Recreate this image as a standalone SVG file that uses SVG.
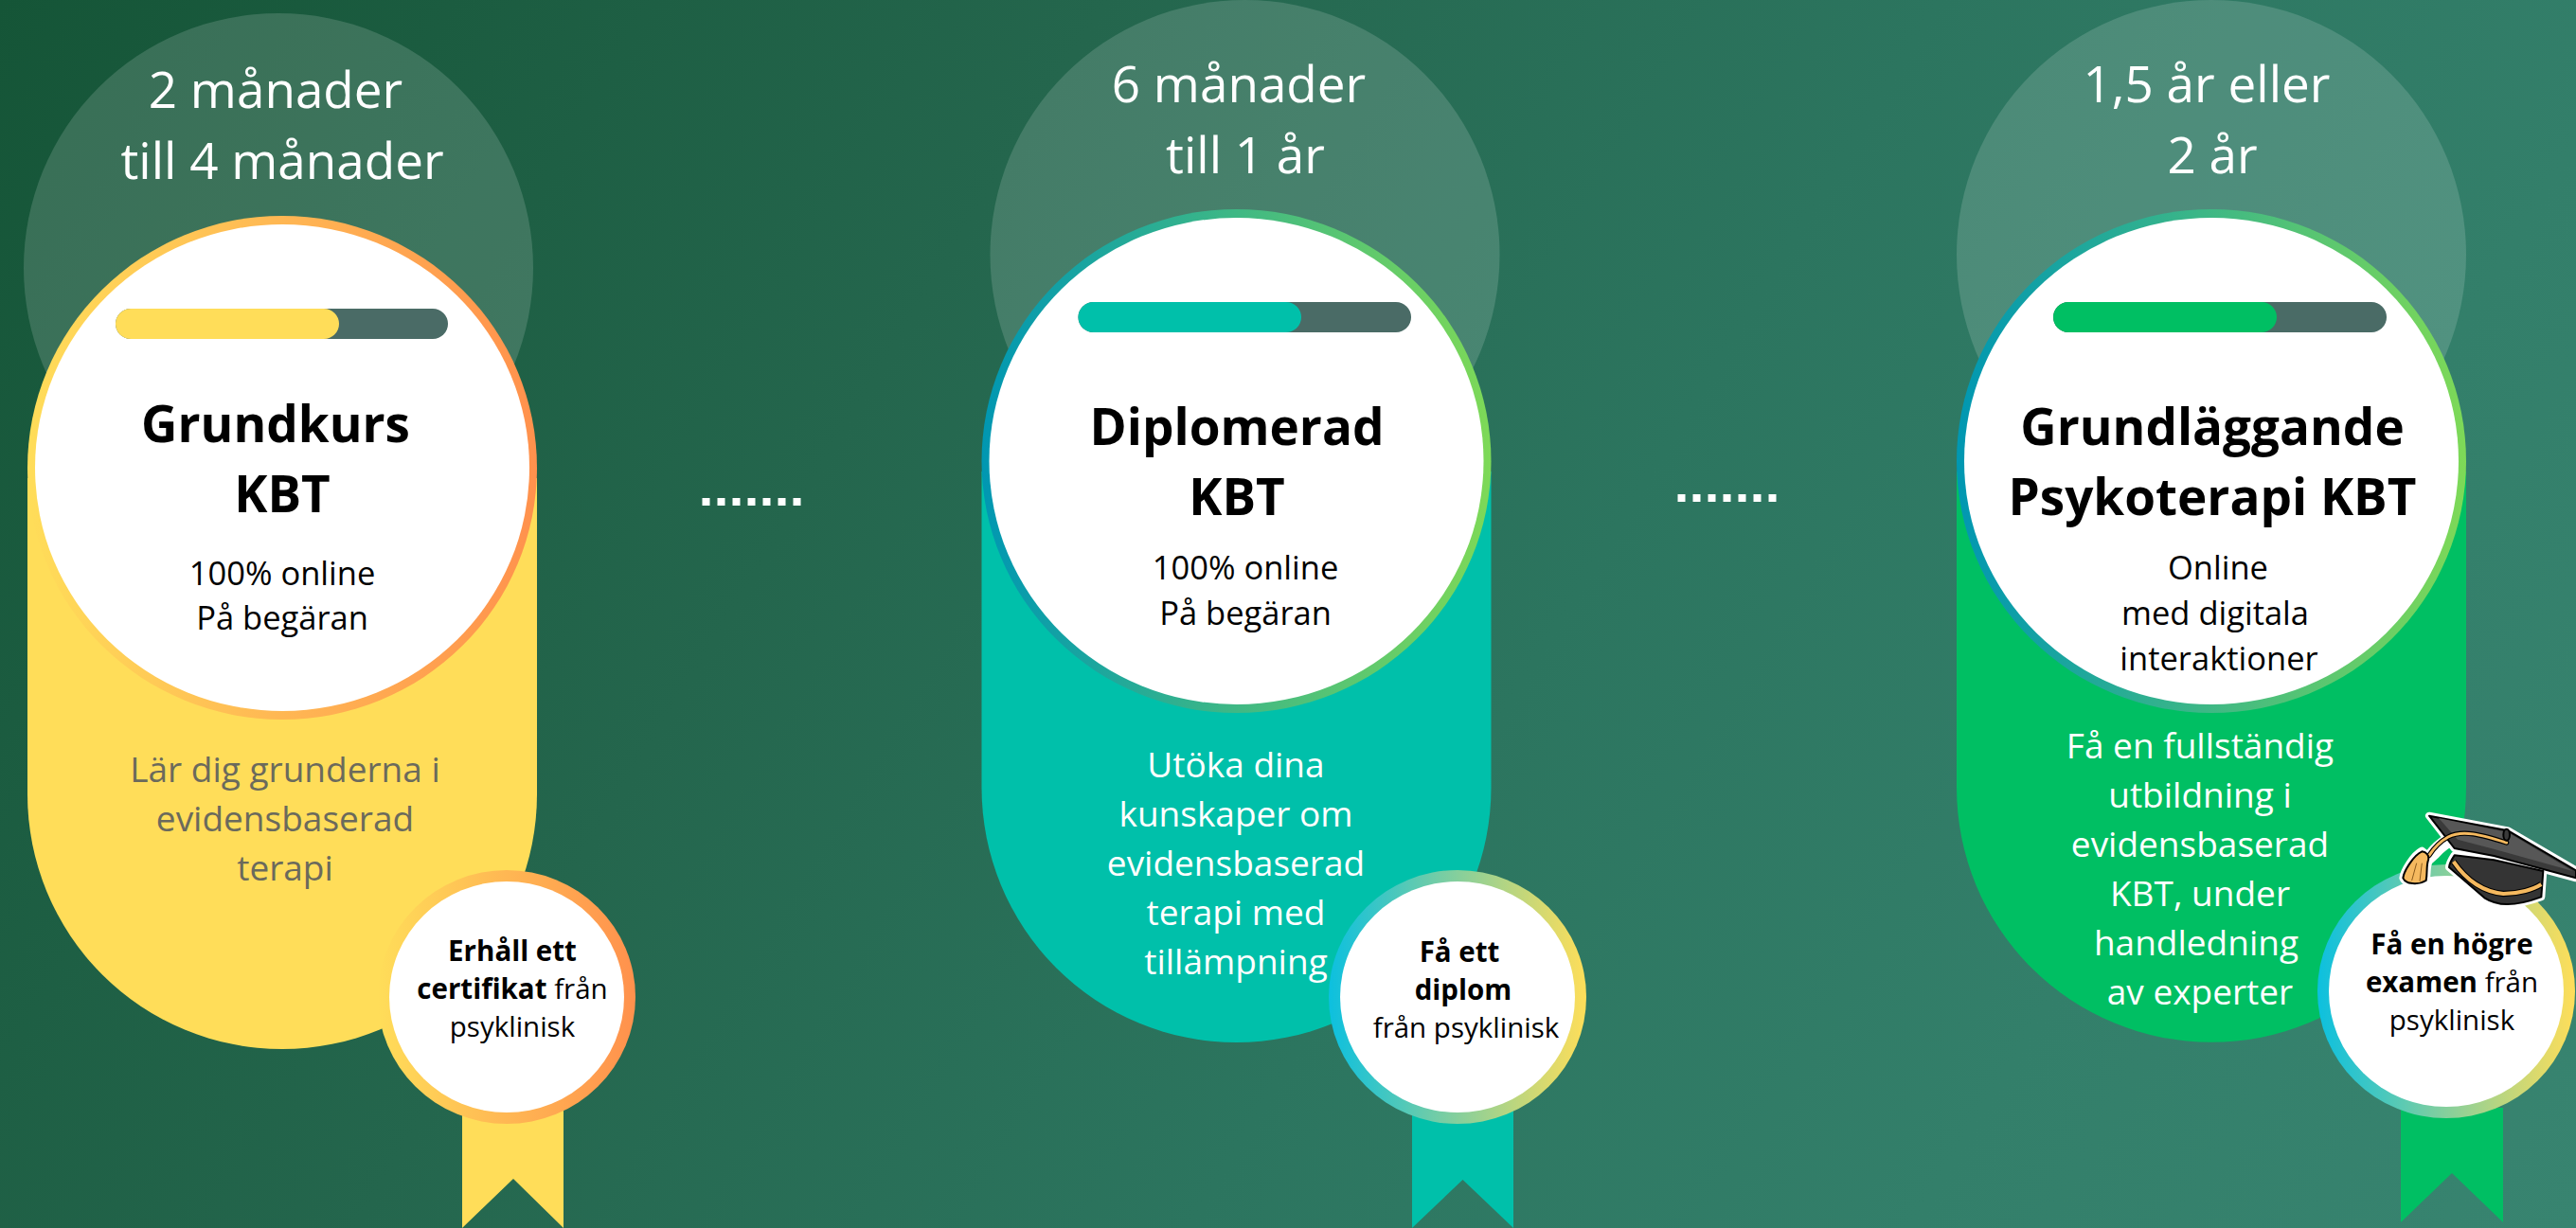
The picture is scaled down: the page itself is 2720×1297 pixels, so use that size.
<svg xmlns="http://www.w3.org/2000/svg" xmlns:xlink="http://www.w3.org/1999/xlink" width="2720" height="1297" viewBox="0 0 2720 1297">
<defs>
<linearGradient id="bg" gradientUnits="userSpaceOnUse" x1="0" y1="0" x2="2556" y2="1564"><stop offset="0" stop-color="#155537"/><stop offset=".333" stop-color="#24664d"/><stop offset=".583" stop-color="#2c755f"/><stop offset=".8" stop-color="#337f6a"/><stop offset="1" stop-color="#388470"/></linearGradient>
<linearGradient id="ringY" x1="0" y1="0" x2="1" y2="0"><stop offset="0" stop-color="#ffdd59"/><stop offset="1" stop-color="#ff914d"/></linearGradient>
<linearGradient id="ringG" x1="0" y1="0" x2="1" y2="0"><stop offset="0" stop-color="#0097b2"/><stop offset="1" stop-color="#7ed957"/></linearGradient>
<linearGradient id="ringB" x1="0" y1="0" x2="1" y2="0"><stop offset="0" stop-color="#0cc0df"/><stop offset="1" stop-color="#ffde59"/></linearGradient>
<g id="capShape" stroke-linejoin="round">
<path d="M135 65L385 112L600 238V262L340 192L215 168Z"/>
<path d="M215 190C205 205 198 220 198 228L310 325C350 350 400 355 490 322L496 240L340 205Z"/>
<path d="M385 152C300 125 240 105 190 135C165 150 145 170 130 190L112 176C85 190 55 240 52 262C60 282 100 285 125 270C130 245 125 225 135 208L155 190C190 150 240 125 290 135L370 155Z"/>
</g>
<style>
text{font-family:"Open Sans","Noto Sans",sans-serif;text-anchor:middle}
.halo{fill:#fff;fill-opacity:.15}
.inner{fill:#fff}
.track{fill:#4a6b66}
.dur{font-size:53px;fill:#fff}
.title{font-size:53px;font-weight:700;fill:#000}
.sub{font-size:34.500px;fill:#000}
.desc{font-size:37px;fill:#fff}
.dark{fill:#6b6a5c}
.badge{font-size:29.500px;fill:#000}
.b{font-weight:700}
.dot{fill:#fff}
</style>
</defs>
<rect width="2720" height="1297" fill="url(#bg)"/>
<g id="node-grundkurs">
<circle class="halo" cx="294" cy="283" r="269"/>
<path d="M29 505H567V839A269 269 0 0 1 29 839Z" fill="#ffdd59"/>
<ellipse cx="298" cy="494" rx="269" ry="266" fill="url(#ringY)"/>
<ellipse class="inner" cx="298" cy="494" rx="261" ry="257"/>
<rect class="track" x="122" y="326" width="351" height="32" rx="16"/>
<rect x="122" y="326" width="236" height="32" rx="16" fill="#ffdd59"/>
<text class="dur" x="291" y="114">2 månader</text>
<text class="dur" x="298" y="189">till 4 månader</text>
<text class="title" x="291" y="467">Grundkurs</text>
<text class="title" x="298" y="541">KBT</text>
<text class="sub" x="298" y="618">100% online</text>
<text class="sub" x="298" y="665">På begäran</text>
<text class="desc dark" x="301" y="826">Lär dig grunderna i</text>
<text class="desc dark" x="301" y="878">evidensbaserad</text>
<text class="desc dark" x="301" y="930">terapi</text>
<path d="M488 1170H595V1297L542 1245L488 1297Z" fill="#ffdd59"/>
<ellipse cx="535" cy="1053" rx="136" ry="134" fill="url(#ringY)"/>
<ellipse class="inner" cx="535" cy="1053" rx="124" ry="122"/>
<text class="badge b" x="541" y="1015">Erhåll ett</text>
<text class="badge" x="541" y="1055"><tspan class="b">certifikat</tspan> från</text>
<text class="badge" x="541" y="1095">psyklinisk</text>
</g>
<g id="node-diplomerad">
<circle class="halo" cx="1314.500" cy="269" r="269"/>
<path d="M1036.500 498H1574.500V832A269 269 0 0 1 1036.500 832Z" fill="#00c0aa"/>
<ellipse cx="1305.500" cy="487" rx="269" ry="266" fill="url(#ringG)"/>
<ellipse class="inner" cx="1305.500" cy="487" rx="261" ry="257"/>
<rect class="track" x="1138.500" y="319" width="351.500" height="32" rx="16"/>
<rect x="1138.500" y="319" width="235.500" height="32" rx="16" fill="#00c0aa"/>
<text class="dur" x="1308" y="108">6 månader</text>
<text class="dur" x="1315" y="183">till 1 år</text>
<text class="title" x="1306" y="470">Diplomerad</text>
<text class="title" x="1306" y="544">KBT</text>
<text class="sub" x="1315" y="612">100% online</text>
<text class="sub" x="1315" y="660">På begäran</text>
<text class="desc" x="1305" y="821">Utöka dina</text>
<text class="desc" x="1305" y="873">kunskaper om</text>
<text class="desc" x="1305" y="925">evidensbaserad</text>
<text class="desc" x="1305" y="977">terapi med</text>
<text class="desc" x="1305" y="1029">tillämpning</text>
<path d="M1491 1170H1598V1297L1544.500 1246L1491 1297Z" fill="#00c0aa"/>
<ellipse cx="1539" cy="1053" rx="136" ry="134" fill="url(#ringB)"/>
<ellipse class="inner" cx="1539" cy="1053" rx="124" ry="122"/>
<text class="badge b" x="1541" y="1016">Få ett</text>
<text class="badge b" x="1545" y="1056">diplom</text>
<text class="badge" x="1548" y="1096">från psyklinisk</text>
</g>
<g id="node-grundlaggande">
<circle class="halo" cx="2335" cy="269" r="269"/>
<path d="M2066 498H2604V832A269 269 0 0 1 2066 832Z" fill="#00bf63"/>
<ellipse cx="2335" cy="487" rx="269" ry="266" fill="url(#ringG)"/>
<ellipse class="inner" cx="2335" cy="487" rx="261" ry="257"/>
<rect class="track" x="2168" y="319" width="352" height="32" rx="16"/>
<rect x="2168" y="319" width="236" height="32" rx="16" fill="#00bf63"/>
<text class="dur" x="2330" y="108">1,5 år eller</text>
<text class="dur" x="2336" y="183">2 år</text>
<text class="title" x="2336" y="470">Grundläggande</text>
<text class="title" x="2336" y="544">Psykoterapi KBT</text>
<text class="sub" x="2342" y="612">Online</text>
<text class="sub" x="2339" y="660">med digitala</text>
<text class="sub" x="2343" y="708">interaktioner</text>
<text class="desc" x="2323" y="801">Få en fullständig</text>
<text class="desc" x="2323" y="853">utbildning i</text>
<text class="desc" x="2323" y="905">evidensbaserad</text>
<text class="desc" x="2323" y="957">KBT, under</text>
<text class="desc" x="2319" y="1009">handledning</text>
<text class="desc" x="2323" y="1061">av experter</text>
<path d="M2535 1170H2643V1291L2589 1239L2535 1291Z" fill="#00bf63"/>
<ellipse cx="2583" cy="1047" rx="136" ry="134" fill="url(#ringB)"/>
<ellipse class="inner" cx="2583" cy="1047" rx="124" ry="122"/>
<text class="badge b" x="2589" y="1008">Få en högre</text>
<text class="badge" x="2589" y="1048"><tspan class="b">examen</tspan> från</text>
<text class="badge" x="2589" y="1088">psyklinisk</text>
<g id="cap" transform="translate(2520 840) scale(.33333)">
<use href="#capShape" fill="#fff" stroke="#fff" stroke-width="24"/>
<path d="M135 65L385 112L600 238V262L340 192L215 168Z" fill="#3a3a3a" stroke="#000" stroke-width="6" stroke-linejoin="round"/>
<path d="M165 72L385 118L590 240L345 172L225 140Z" fill="#575757"/>
<path d="M215 190C205 205 198 220 198 228L310 325C350 350 400 355 490 322L496 240L340 205Z" fill="#343434" stroke="#000" stroke-width="6" stroke-linejoin="round"/>
<path d="M212 210C250 265 300 305 370 312C420 312 465 298 490 282" fill="none" stroke="#000" stroke-width="19"/>
<path d="M212 210C250 265 300 305 370 312C420 312 465 298 490 282" fill="none" stroke="#f5b95f" stroke-width="12"/>
<path d="M380 150C300 125 240 108 195 132C170 146 148 170 135 190" fill="none" stroke="#000" stroke-width="16" stroke-linecap="round"/>
<path d="M380 150C300 125 240 108 195 132C170 146 148 170 135 190" fill="none" stroke="#f5b95f" stroke-width="9" stroke-linecap="round"/>
<ellipse cx="380" cy="125" rx="10" ry="18" fill="#3a3a3a" stroke="#000" stroke-width="6"/>
<path d="M112 178C85 190 55 240 52 262C60 282 100 285 125 270C130 245 125 225 132 205C136 190 125 180 112 178Z" fill="#f5b95f" stroke="#000" stroke-width="6" stroke-linejoin="round"/>
<path d="M95 215L80 270M112 215L105 272" fill="none" stroke="#8a5a1c" stroke-width="3"/>
</g>
</g>
<g id="connectors">
<rect class="dot" x="741.500" y="526" width="8" height="8"/><rect class="dot" x="757.500" y="526" width="8" height="8"/><rect class="dot" x="773.500" y="526" width="8" height="8"/><rect class="dot" x="789.500" y="526" width="8" height="8"/><rect class="dot" x="805.500" y="526" width="8" height="8"/><rect class="dot" x="821.500" y="526" width="8" height="8"/><rect class="dot" x="837.500" y="526" width="8" height="8"/>
<rect class="dot" x="1771.500" y="522" width="8" height="8"/><rect class="dot" x="1787.500" y="522" width="8" height="8"/><rect class="dot" x="1803.500" y="522" width="8" height="8"/><rect class="dot" x="1819.500" y="522" width="8" height="8"/><rect class="dot" x="1835.500" y="522" width="8" height="8"/><rect class="dot" x="1851.500" y="522" width="8" height="8"/><rect class="dot" x="1867.500" y="522" width="8" height="8"/>
</g>
</svg>
